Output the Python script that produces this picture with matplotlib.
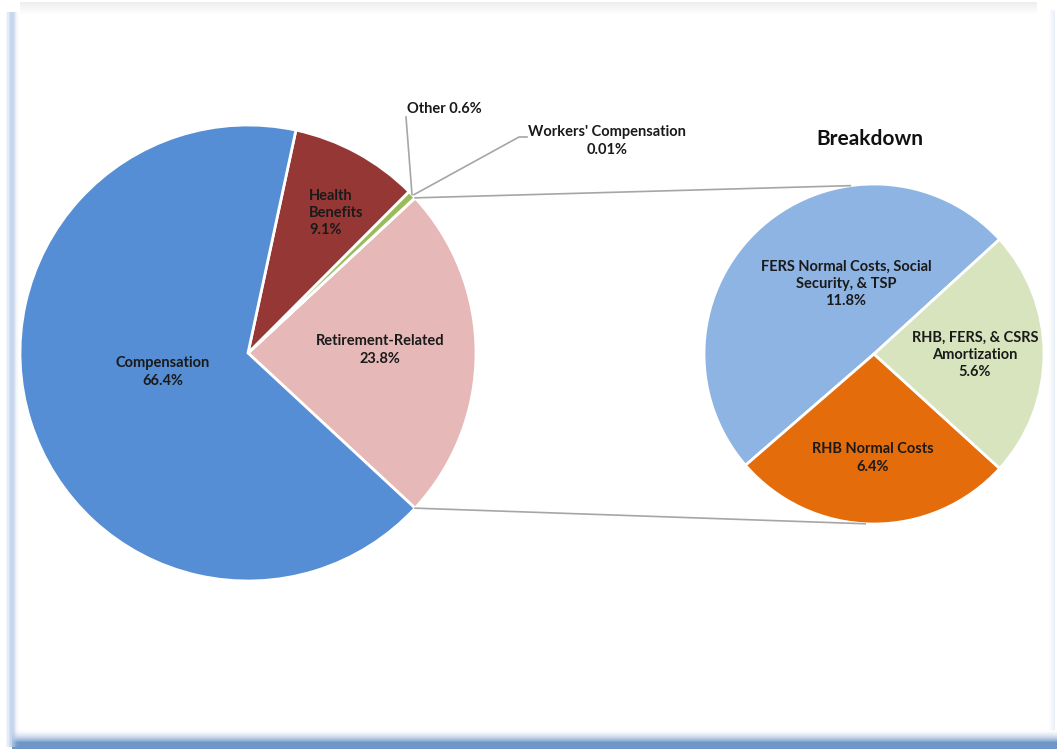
import numpy as np
import matplotlib
matplotlib.use("Agg")
import matplotlib.pyplot as plt
from matplotlib.patches import Rectangle

plt.rcParams['font.family'] = ['Lato', 'DejaVu Sans']

# main pie (counter-clockwise from the right-hand side)
main_labels = ['Retirement-Related', "Workers' Compensation", 'Other', 'Health\nBenefits', 'Compensation']
main_values = [23.8, 0.01, 0.6, 9.1, 66.4]
main_colors = ['#E6B9B8', '#9BBB59', '#9BBB59', '#953735', '#558ED5']

# breakdown of Retirement-Related
sub_labels = ['FERS Normal Costs, Social\nSecurity, & TSP', 'RHB Normal Costs', 'RHB, FERS, & CSRS\nAmortization']
sub_values = [11.8, 6.4, 5.6]
sub_colors = ['#8EB4E3', '#E46C0A', '#D7E4BD']

W, H = 1057, 750
fig = plt.figure(figsize=(W / 100, H / 100), dpi=100)
ax = fig.add_axes([0, 0, 1, 1])
ax.set_aspect('equal')


def P(x, y):
    # pixel position (from top-left) -> data coords
    return x, H - y


txt = dict(fontsize=10.5, fontweight='bold', color='#1a1a1a', linespacing=1.3)

# frame glow
for i in range(20):
    a = min(1.0, ((i + 1) / 14) ** 2)
    ax.add_patch(Rectangle((12, 20 - i), W, 1, color='#6f96c8', alpha=a, lw=0, zorder=0))
for i, a in enumerate([0.15, 0.35, 0.55, 0.7, 0.75, 0.7, 0.55, 0.35, 0.15]):
    ax.add_patch(Rectangle((6 + i * 1.3, 3), 1.3, H - 15, color='#b3c9e6', alpha=a, lw=0, zorder=0))
for i in range(12):
    ax.add_patch(Rectangle((20, H - 14 + i), W - 40, 1, color='#dcdcdc', alpha=0.04 * (i + 1), lw=0, zorder=0))
for i in range(6):
    ax.add_patch(Rectangle((W - 8 + i, 20), 1, H - 30, color='#dde6f2', alpha=0.1 * (i + 1), lw=0, zorder=0))

# left pie
cx1, cy1 = P(248, 353)
r1 = 228
start1 = -main_values[0] / sum(main_values) * 360 / 2
w1, _ = ax.pie(main_values, colors=main_colors, startangle=start1, counterclock=True,
               center=(cx1, cy1), radius=r1, frame=True,
               wedgeprops=dict(edgecolor='white', linewidth=2))

# right pie
cx2, cy2 = P(874, 354)
r2 = 170
w2, _ = ax.pie(sub_values, colors=sub_colors, startangle=42.4, counterclock=True,
               center=(cx2, cy2), radius=r2, frame=True,
               wedgeprops=dict(edgecolor='white', linewidth=2))
ax.set_xlim(0, W)
ax.set_ylim(0, H)
ax.axis('off')

# connector lines between the pies
t1, t2 = np.radians(w1[0].theta2), np.radians(w1[0].theta1)
top_a, bot_a = np.radians(98), np.radians(-93)
ax.plot([cx1 + r1 * np.cos(t1), cx2 + r2 * np.cos(top_a)],
        [cy1 + r1 * np.sin(t1), cy2 + r2 * np.sin(top_a)], color='#a6a6a6', lw=1.2, zorder=1)
ax.plot([cx1 + r1 * np.cos(t2), cx2 + r2 * np.cos(bot_a)],
        [cy1 + r1 * np.sin(t2), cy2 + r2 * np.sin(bot_a)], color='#a6a6a6', lw=1.2, zorder=1)

# labels on the main pie
ax.text(*P(163, 372), f"{main_labels[4]}\n{main_values[4]}%", ha='center', va='center', **txt)
ax.text(*P(309, 213), f"{main_labels[3]}\n{main_values[3]}%", ha='left', va='center', **txt)
ax.text(*P(380, 350), f"{main_labels[0]}\n{main_values[0]}%", ha='center', va='center', **txt)
ax.text(*P(407, 109), f"{main_labels[2]} {main_values[2]}%", ha='left', va='center', **txt)
ax.text(*P(607, 141), f"{main_labels[1]}\n{main_values[1]}%", ha='center', va='center', **txt)

# leader lines for the thin slices
mid = np.radians((w1[2].theta1 + w1[2].theta2) / 2)
ex, ey = cx1 + r1 * np.cos(mid), cy1 + r1 * np.sin(mid)
ax.plot([ex, P(406, 117)[0]], [ey, P(406, 117)[1]], color='#a6a6a6', lw=1.2, zorder=1)
ax.plot([ex + 2, P(519, 137)[0], P(527, 137)[0]], [ey, P(519, 137)[1], P(527, 137)[1]],
        color='#a6a6a6', lw=1.2, zorder=1)

# breakdown labels
ax.text(*P(870, 139), 'Breakdown', ha='center', va='center', fontsize=15, fontweight='bold', color='#111111')
ax.text(*P(846, 284), f"{sub_labels[0]}\n{sub_values[0]}%", ha='center', va='center', **txt)
ax.text(*P(873, 458), f"{sub_labels[1]}\n{sub_values[1]}%", ha='center', va='center', **txt)
ax.text(*P(975, 355), f"{sub_labels[2]}\n{sub_values[2]}%", ha='center', va='center', **txt)

fig.savefig('out.png', dpi=100, facecolor='white')
